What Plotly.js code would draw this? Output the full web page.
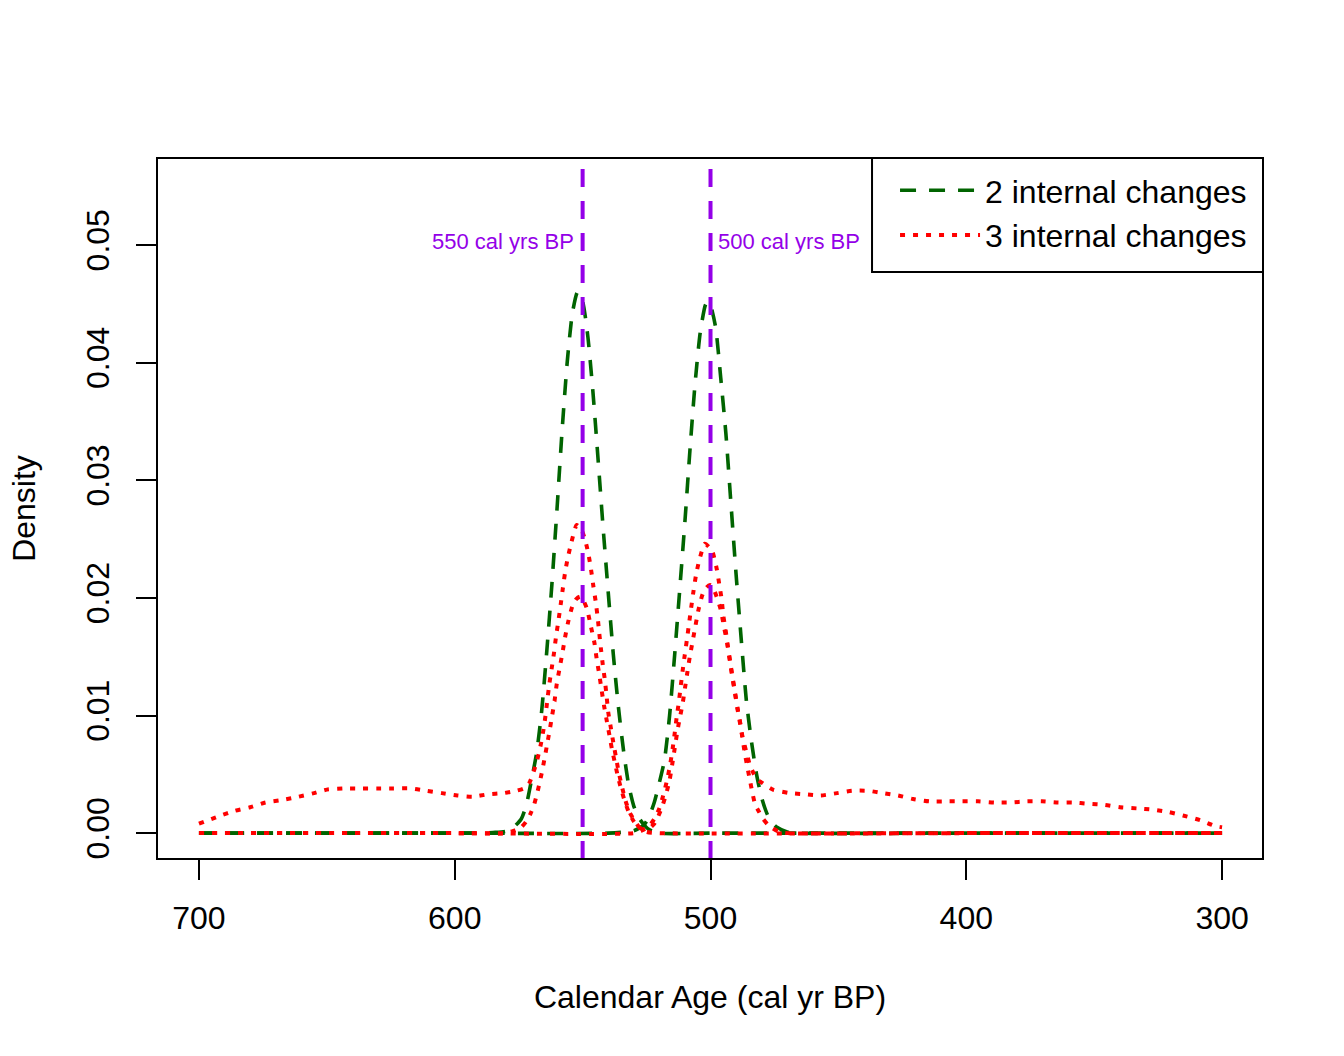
<!DOCTYPE html>
<html>
<head>
<meta charset="utf-8">
<script src="https://cdn.plot.ly/plotly-3.0.1.min.js"></script>
<style>
  html, body { margin: 0; padding: 0; background: #ffffff; }
  #chart { width: 1344px; height: 1056px; }
</style>
</head>
<body>
<div id="chart"></div>
<script>
// ---- Data ----
// 2 internal changes: change point 1 and change point 2 (posterior densities)
const green1X = [700, 600, 590, 585, 580, 577, 574, 572, 570, 568, 566, 564, 562, 560, 558, 556, 554, 552, 550, 548, 546, 544, 542, 540, 538, 536, 534, 532, 530, 528, 526, 524, 520, 500, 400, 300];
const green1Y = [0, 0, 0, 0.00005, 0.00015, 0.0005, 0.0012, 0.0024, 0.0045, 0.0068, 0.0104, 0.0155, 0.0212, 0.0276, 0.0343, 0.0401, 0.0442, 0.0460, 0.0452, 0.0423, 0.0376, 0.0319, 0.0260, 0.0205, 0.0152, 0.0107, 0.0070, 0.0041, 0.0023, 0.0013, 0.0007, 0.0003, 0, 0, 0, 0];

const green2X = [700, 600, 540, 530, 526, 524, 522, 520, 518, 516, 514, 512, 510, 508, 506, 504, 502, 501, 500, 498, 496, 494, 492, 490, 488, 486, 484, 482, 480, 478, 476, 474, 470, 465, 400, 300];
const green2Y = [0, 0, 0, 0.0002, 0.0007, 0.0014, 0.0026, 0.0043, 0.0062, 0.0100, 0.0152, 0.0208, 0.0265, 0.0327, 0.0383, 0.0426, 0.0449, 0.0452, 0.0449, 0.0430, 0.0387, 0.0340, 0.0280, 0.0220, 0.0165, 0.0113, 0.0078, 0.0050, 0.0030, 0.0017, 0.0009, 0.0005, 0.0001, 0, 0, 0];

// 3 internal changes: change points 1, 2 and 3
const red1X = [700, 692, 686, 680, 674, 668, 661, 655, 650, 643, 636, 630, 624, 617, 611, 605, 599, 593, 587, 581, 576, 573, 571, 569.5, 568.3, 567.2, 566.2, 565.3, 564.5, 563.8, 563, 562.1, 561.2, 560.4, 559.5, 558.6, 557.8, 556.9, 555.9, 554.3, 552.3, 550.5, 549.1, 547.8, 546.7, 545.8, 544.9, 544.1, 543.5, 542.8, 542.1, 541.3, 540.6, 540, 539, 538, 537, 536, 535, 534, 533, 531.5, 529.5, 527.5, 525, 520, 400, 300];
const red1Y = [0.0008, 0.00145, 0.0019, 0.0022, 0.0026, 0.0028, 0.0031, 0.0034, 0.0037, 0.0038, 0.0038, 0.0038, 0.0038, 0.0038, 0.0036, 0.0034, 0.0032, 0.0031, 0.0033, 0.0034, 0.0036, 0.0038, 0.0042, 0.0050, 0.0058, 0.0067, 0.0077, 0.0088, 0.0100, 0.0113, 0.0127, 0.0140, 0.0153, 0.0167, 0.0180, 0.0194, 0.0207, 0.0221, 0.0233, 0.0248, 0.0262, 0.0258, 0.0250, 0.0238, 0.0224, 0.0210, 0.0197, 0.0183, 0.0170, 0.0156, 0.0143, 0.0130, 0.0116, 0.0103, 0.0090, 0.0077, 0.0065, 0.0053, 0.0043, 0.0034, 0.0026, 0.0017, 0.0010, 0.0004, 0.0001, 0, 0, 0];

const red2X = [700, 600, 580, 577, 574, 572, 570.5, 569, 568, 567, 566, 565, 564, 563, 562, 561, 560.1, 559.1, 557.9, 556.9, 555.6, 554, 552.5, 551, 549.5, 548.2, 546.7, 545.4, 544.5, 543.5, 542.6, 541.6, 540.6, 539.5, 538.5, 537.3, 536.2, 535, 533.5, 532, 530, 528, 526, 524, 522, 520.5, 519, 517.5, 516, 515, 514, 513, 512, 510.9, 510, 509.1, 508.1, 507, 505.9, 504.7, 503.1, 501.5, 500.2, 498.9, 497.6, 496, 494.7, 493.4, 492.4, 491.4, 490.4, 489.4, 488.4, 487.6, 486.6, 485.5, 484.5, 483.5, 482.5, 481, 479.4, 477.5, 475.6, 473, 470, 400, 300];
const red2Y = [0, 0, 0, 0.0002, 0.0005, 0.0010, 0.0016, 0.0024, 0.0032, 0.0041, 0.0051, 0.0062, 0.0074, 0.0086, 0.0099, 0.0112, 0.0127, 0.0139, 0.0153, 0.0166, 0.0180, 0.0193, 0.0199, 0.0201, 0.0197, 0.0190, 0.0175, 0.0162, 0.0148, 0.0135, 0.0122, 0.0108, 0.0096, 0.0083, 0.0071, 0.0059, 0.0048, 0.0038, 0.0027, 0.0018, 0.0010, 0.0005, 0.0003, 0.0004, 0.0008, 0.0014, 0.0022, 0.0032, 0.0045, 0.0058, 0.0072, 0.0086, 0.0098, 0.0110, 0.0123, 0.0136, 0.0150, 0.0163, 0.0176, 0.0190, 0.0203, 0.0209, 0.0211, 0.0208, 0.0201, 0.0190, 0.0175, 0.0161, 0.0147, 0.0133, 0.0119, 0.0106, 0.0094, 0.0082, 0.0068, 0.0055, 0.0044, 0.0033, 0.0024, 0.0018, 0.0012, 0.0007, 0.0004, 0.0001, 0, 0, 0];

const red3X = [700, 600, 530, 527, 524, 522, 520, 518.5, 517, 515.8, 514.8, 514, 513.2, 512.4, 511.7, 510.9, 510.1, 509.2, 508.4, 507.6, 506.7, 505.7, 504.4, 502.2, 500.5, 499.2, 497.6, 496.6, 495.6, 495, 494.1, 493.3, 492.4, 491.5, 490.4, 489.5, 488.5, 487.5, 486, 484.6, 483, 481.5, 480, 478, 475.6, 469, 463, 457, 450.5, 444.7, 438.4, 432.5, 426.7, 420.8, 414.2, 407.5, 401.7, 395.4, 388.8, 382.9, 376.3, 370.4, 364.1, 358.3, 352.4, 345.8, 339.9, 333.2, 327, 321.1, 315.3, 308.6, 302.7, 300];
const red3Y = [0, 0, 0, 0.0002, 0.0006, 0.0012, 0.0021, 0.0032, 0.0045, 0.0058, 0.0072, 0.0085, 0.0099, 0.0111, 0.0124, 0.0138, 0.0151, 0.0165, 0.0178, 0.0191, 0.0205, 0.0219, 0.0232, 0.0246, 0.0243, 0.0239, 0.0225, 0.0212, 0.0198, 0.0185, 0.0173, 0.0159, 0.0146, 0.0133, 0.0119, 0.0106, 0.0094, 0.0082, 0.0069, 0.0058, 0.0050, 0.0045, 0.0043, 0.0040, 0.0037, 0.0034, 0.0033, 0.0032, 0.0034, 0.0036, 0.0036, 0.0034, 0.0032, 0.0029, 0.0027, 0.0027, 0.0027, 0.0027, 0.0026, 0.0026, 0.0027, 0.0027, 0.0026, 0.0026, 0.0025, 0.0024, 0.0022, 0.0021, 0.0020, 0.0018, 0.0015, 0.0011, 0.0006, 0.0005];

// Reference ages (vertical lines) and their labels
const refAges = [550, 500];
const refLabels = ["550 cal yrs BP", "500 cal yrs BP"];
const refLabelY = 0.05;

// Legend names
const seriesNames = ["2 internal changes", "3 internal changes"];

// Axis ticks
const xTicks = [700, 600, 500, 400, 300];
const yTicks = [0, 0.01, 0.02, 0.03, 0.04, 0.05];

// ---- Styling ----
const FONT = "Liberation Sans, Arial, Helvetica, sans-serif";
const GREEN = "#006400";
const RED = "#FF0000";
const PURPLE = "#9400E8";

const greenLine = { color: GREEN, width: 3.6, dash: "16px,13px", shape: "spline", smoothing: 0.6 };
const redLine = { color: RED, width: 4, dash: "5px,8px", shape: "spline", smoothing: 0.6 };

const traces = [
  { x: green1X, y: green1Y, name: seriesNames[0], legendgroup: "g", showlegend: true },
  { x: green2X, y: green2Y, name: seriesNames[0], legendgroup: "g", showlegend: false },
].map(t => Object.assign(t, { type: "scatter", mode: "lines", line: greenLine, hoverinfo: "skip" }))
.concat([
  { x: red1X, y: red1Y, name: seriesNames[1], legendgroup: "r", showlegend: true },
  { x: red2X, y: red2Y, name: seriesNames[1], legendgroup: "r", showlegend: false },
  { x: red3X, y: red3Y, name: seriesNames[1], legendgroup: "r", showlegend: false },
].map(t => Object.assign(t, { type: "scatter", mode: "lines", line: redLine, hoverinfo: "skip" })));

const shapes = refAges.map(a => ({
  type: "line", xref: "x", yref: "paper", x0: a, x1: a, y0: 0, y1: 1,
  line: { color: PURPLE, width: 4, dash: "18px,14px" }, layer: "above"
}));
// plot frame
shapes.push({
  type: "rect", xref: "paper", yref: "paper", x0: 0, x1: 1, y0: 0, y1: 1,
  line: { color: "#000000", width: 2 }, fillcolor: "rgba(0,0,0,0)", layer: "above"
});
// legend frame (R-style box in the top-right corner)
shapes.push({
  type: "rect", xref: "paper", yref: "paper", x0: 0.6465, x1: 1, y0: 0.8374, y1: 1,
  line: { color: "#000000", width: 2 }, fillcolor: "#ffffff", layer: "above"
});

const annotations = refAges.map((a, i) => ({
  x: a, y: refLabelY, xref: "x", yref: "y", text: refLabels[i], showarrow: false,
  xanchor: i === 0 ? "right" : "left", yanchor: "middle", xshift: i === 0 ? -7 : 5, yshift: 4,
  font: { family: FONT, size: 22, color: PURPLE }
}));

const layout = {
  width: 1344, height: 1056,
  margin: { l: 157, r: 81, t: 158, b: 197, pad: 0 },
  paper_bgcolor: "#ffffff", plot_bgcolor: "#ffffff",
  font: { family: FONT, size: 32, color: "#000000" },
  showlegend: true,
  legend: {
    x: 0.6673, y: 0.9929, xanchor: "left", yanchor: "top",
    bgcolor: "rgba(0,0,0,0)", borderwidth: 0,
    font: { family: FONT, size: 32, color: "#000000" },
    itemwidth: 80, tracegroupgap: 0, traceorder: "normal"
  },
  xaxis: {
    range: [716.4, 284.0], tickvals: xTicks, ticktext: xTicks.map(String),
    ticks: "outside", ticklen: 20, tickwidth: 2, tickcolor: "#000000",
    showgrid: false, zeroline: false, showline: false,
    tickfont: { family: FONT, size: 32, color: "#000000" },
    ticklabelstandoff: 11,
    title: { text: "Calendar Age (cal yr BP)", font: { family: FONT, size: 32, color: "#000000" }, standoff: 50 }
  },
  yaxis: {
    range: [-0.0022, 0.0574], tickvals: yTicks, ticktext: yTicks.map(v => v.toFixed(2)),
    ticks: "outside", ticklen: 20, tickwidth: 2, tickcolor: "#000000", tickangle: -90,
    showgrid: false, zeroline: false, showline: false,
    tickfont: { family: FONT, size: 32, color: "#000000" },
    ticklabelstandoff: 14,
    title: { text: "Density", font: { family: FONT, size: 32, color: "#000000" }, standoff: 35 }
  },
  shapes: shapes,
  annotations: annotations
};

Plotly.newPlot("chart", traces, layout, { displayModeBar: false, staticPlot: true });
</script>
</body>
</html>
